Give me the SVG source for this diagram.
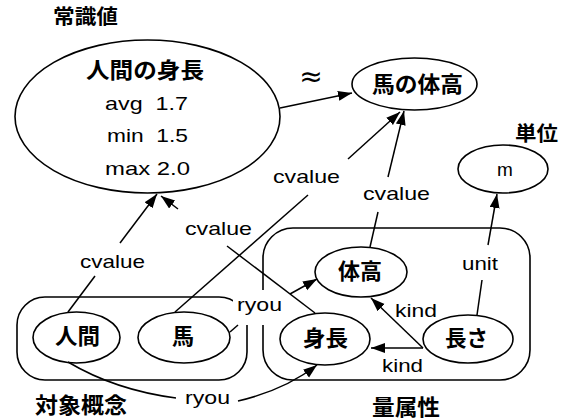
<svg xmlns="http://www.w3.org/2000/svg" width="561" height="420" viewBox="0 0 561 420">
<style>
.n{fill:#fff;stroke:#000;stroke-width:1.6}
.b{fill:none;stroke:#000;stroke-width:1.6}
.c{fill:none;stroke:#000;stroke-width:1.5}
.j{font-family:"Noto Sans CJK JP","Noto Sans CJK SC",sans-serif;font-weight:bold;fill:#000}
.l{font-family:"Liberation Sans",Arial,sans-serif;font-size:19px;fill:#000}
</style>
<defs>
<marker id="ah" markerUnits="userSpaceOnUse" markerWidth="16" markerHeight="12" refX="14" refY="5" orient="auto">
<path d="M0,0 L14,5 L0,10 z" fill="#000"/>
</marker>
</defs>
<rect width="561" height="420" fill="#fff"/>
<g id="group-taisho">
<rect class="b" x="17" y="297" width="230" height="83" rx="28"/>
<text class="j" x="35" y="413" font-size="22" textLength="92" lengthAdjust="spacingAndGlyphs">対象概念</text>
</g>
<g id="group-ryozokusei">
<rect class="b" x="263" y="228" width="267" height="152" rx="30"/>
<text class="j" x="372" y="415" font-size="22" textLength="68" lengthAdjust="spacingAndGlyphs">量属性</text>
</g>
<rect x="233" y="290" width="51" height="35" fill="#fff"/>
<g id="node-jousikichi">
<ellipse class="n" cx="147.5" cy="116.5" rx="132.5" ry="76.5"/>
<text class="j" x="86" y="78" font-size="22" textLength="118" lengthAdjust="spacingAndGlyphs">人間の身長</text>
<text class="l" x="105" y="110" xml:space="preserve" textLength="83" lengthAdjust="spacingAndGlyphs">avg  1.7</text>
<text class="l" x="107" y="142" xml:space="preserve" textLength="81" lengthAdjust="spacingAndGlyphs">min  1.5</text>
<text class="l" x="105" y="175" textLength="85" lengthAdjust="spacingAndGlyphs">max 2.0</text>
</g>
<text class="j" x="53" y="24" font-size="20" textLength="65" lengthAdjust="spacingAndGlyphs">常識値</text>
<g id="node-uma-taikou">
<ellipse class="n" cx="414.5" cy="84" rx="62.5" ry="26"/>
<text class="j" x="372" y="92" font-size="22" textLength="91" lengthAdjust="spacingAndGlyphs">馬の体高</text>
</g>
<g id="node-m">
<ellipse class="n" cx="503" cy="169" rx="45" ry="24"/>
<text class="l" x="505" y="176" font-size="22" text-anchor="middle">m</text>
</g>
<text class="j" x="515" y="141" font-size="20" textLength="43" lengthAdjust="spacingAndGlyphs">単位</text>
<g id="node-taikou">
<ellipse class="n" cx="361" cy="272" rx="46" ry="25"/>
<text class="j" x="338" y="279" font-size="22" textLength="44" lengthAdjust="spacingAndGlyphs">体高</text>
</g>
<g id="node-shinchou">
<ellipse class="n" cx="325" cy="339" rx="45" ry="26"/>
<text class="j" x="303" y="346" font-size="22" textLength="45" lengthAdjust="spacingAndGlyphs">身長</text>
</g>
<g id="node-nagasa">
<ellipse class="n" cx="468" cy="339" rx="45" ry="24"/>
<text class="j" x="445" y="346" font-size="22" textLength="43" lengthAdjust="spacingAndGlyphs">長さ</text>
</g>
<g id="node-ningen">
<ellipse class="n" cx="76.5" cy="337.5" rx="43.5" ry="25.5"/>
<text class="j" x="55" y="344" font-size="22" textLength="45" lengthAdjust="spacingAndGlyphs">人間</text>
</g>
<g id="node-uma">
<ellipse class="n" cx="184" cy="337.5" rx="46" ry="25.5"/>
<text class="j" x="183" y="344" font-size="22" text-anchor="middle">馬</text>
</g>
<g id="connectors">
<path class="c" d="M280,108 L352,93" marker-end="url(#ah)"/>
<text x="311" y="86" font-family="DejaVu Sans,sans-serif" font-size="28" text-anchor="middle">≈</text>
<path class="c" d="M68,312 L95,276"/>
<path class="c" d="M120,243 L157,194" marker-end="url(#ah)"/>
<text class="l" x="80" y="268" textLength="65" lengthAdjust="spacingAndGlyphs">cvalue</text>
<path class="c" d="M315,313 L227,246"/>
<path class="c" d="M178,209 L161,196" marker-end="url(#ah)"/>
<text class="l" x="185" y="235" textLength="67" lengthAdjust="spacingAndGlyphs">cvalue</text>
<path class="c" d="M175,312 L308,195"/>
<path class="c" d="M348,159 L400,112" marker-end="url(#ah)"/>
<text class="l" x="273" y="183" textLength="67" lengthAdjust="spacingAndGlyphs">cvalue</text>
<path class="c" d="M370,247 L378,212"/>
<path class="c" d="M388,177 L404,111" marker-end="url(#ah)"/>
<text class="l" x="363" y="200" textLength="67" lengthAdjust="spacingAndGlyphs">cvalue</text>
<path class="c" d="M477,315 L482,280"/>
<path class="c" d="M488,245 L497,194" marker-end="url(#ah)"/>
<text class="l" x="462" y="270" textLength="36" lengthAdjust="spacingAndGlyphs">unit</text>
<path class="c" d="M423,348 L371,298" marker-end="url(#ah)"/>
<text class="l" x="395" y="317" textLength="42" lengthAdjust="spacingAndGlyphs">kind</text>
<path class="c" d="M423,348 L371,348" marker-end="url(#ah)"/>
<text class="l" x="382" y="372" textLength="41" lengthAdjust="spacingAndGlyphs">kind</text>
<path class="c" d="M230,332 L238,325"/>
<path class="c" d="M290,294 L317,279" marker-end="url(#ah)"/>
<text class="l" x="237" y="311" textLength="45" lengthAdjust="spacingAndGlyphs">ryou</text>
<path class="c" d="M68,362 Q115,390 176,398"/>
<path class="c" d="M238,401 Q285,390 317,365" marker-end="url(#ah)"/>
<text class="l" x="185" y="404" textLength="45" lengthAdjust="spacingAndGlyphs">ryou</text>
</g>
</svg>
